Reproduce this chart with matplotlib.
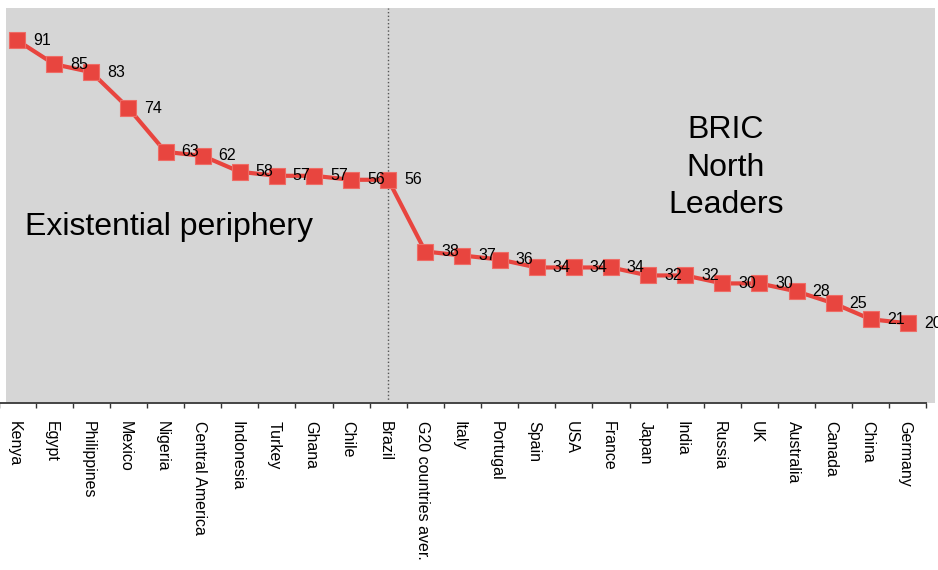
import numpy as np
import matplotlib
matplotlib.use('Agg')
import matplotlib.pyplot as plt
import matplotlib.transforms as mtransforms
from matplotlib.patches import Rectangle

countries = ['Kenya', 'Egypt', 'Philippines', 'Mexico', 'Nigeria', 'Central America',
             'Indonesia', 'Turkey', 'Ghana', 'Chile', 'Brazil', 'G20 countries aver.',
             'Italy', 'Portugal', 'Spain', 'USA', 'France', 'Japan', 'India', 'Russia',
             'UK', 'Australia', 'Canada', 'China', 'Germany']
values = [91, 85, 83, 74, 63, 62, 58, 57, 57, 56, 56, 38,
          37, 36, 34, 34, 34, 32, 32, 30, 30, 28, 25, 21, 20]
split_at = 'Brazil'

plt.rcParams['font.family'] = ['Liberation Sans', 'DejaVu Sans']

W, H = 938, 570
fig = plt.figure(figsize=(W / 100, H / 100), dpi=100)

# grey plot background (slightly offset from the axis line, like the original)
fig.patches.append(Rectangle((6 / W, (H - 403) / H), (935 - 6) / W, (403 - 8) / H,
                             transform=fig.transFigure, facecolor='#d6d6d6',
                             edgecolor='none', zorder=-5))

ax = fig.add_axes([-1.5 / W, (H - 403) / H, 928 / W, 398.6 / H])
ax.set_facecolor('none')
ax.set_zorder(1)

x = np.arange(len(countries))
red = '#e8453f'
ax.plot(x, values, color=red, lw=3, marker='s', ms=12.2,
        markerfacecolor=red, markeredgecolor='#ee6c66', mew=0.8, zorder=3)

for xi, v in zip(x, values):
    ax.annotate(str(v), (xi, v), xytext=(11.5, 0), textcoords='offset points',
                ha='left', va='center', fontsize=11.5, color='black', zorder=4)

xb = countries.index(split_at)
ax.axvline(xb, 0, 0.991, color='#555555', ls=':', lw=1, zorder=2)

ax.text(0.214, 42.1, 'Existential periphery', fontsize=23, ha='left', va='baseline')
ax.text(19.1, 59.0, 'BRIC\nNorth\nLeaders', fontsize=23, ha='center', va='center',
        multialignment='center', linespacing=1.32)

ax.set_xlim(-0.5, len(countries) - 0.5)
ax.set_ylim(0, 100)

ax.set_xticks(x)
ax.set_xticklabels(countries, rotation=270, fontsize=11.5, ha='center', va='top')
ax.set_xticks(np.arange(-0.5, len(countries)), minor=True)
ax.tick_params(axis='x', which='major', length=0, pad=13)
ax.tick_params(axis='x', which='minor', length=3.6, width=1, color='#333333')
shift = mtransforms.ScaledTranslation(-3 / 100, 0, fig.dpi_scale_trans)
for lbl in ax.get_xticklabels():
    lbl.set_transform(lbl.get_transform() + shift)

ax.set_yticks([])
for s in ['top', 'right', 'left']:
    ax.spines[s].set_visible(False)
ax.spines['bottom'].set_color('#444444')
ax.spines['bottom'].set_linewidth(1.4)

plt.savefig('out.png', dpi=100)
